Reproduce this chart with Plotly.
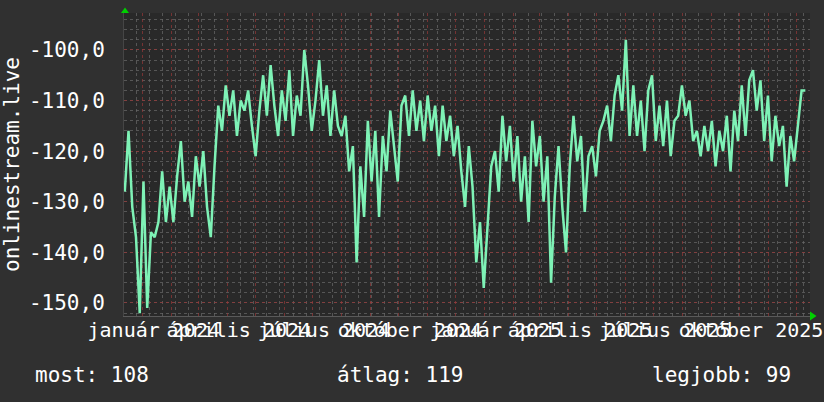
import pandas as pd
import plotly.graph_objects as go

# -----------------------------
# Data (one value every 4 days)
# -----------------------------

start_date = "2023-12-13"

values = [
    -128, -116, -131, -137, -152, -126, -151, -136, -137, -134,
    -124, -134, -127, -134, -125, -118, -130, -126, -133, -121,
    -127, -120, -131, -137, -123, -111, -116, -107, -113, -108,
    -117, -110, -112, -108, -115, -121, -112, -105, -113, -103,
    -111, -117, -108, -114, -104, -117, -109, -113, -100, -107,
    -116, -110, -102, -113, -107, -117, -108, -115, -117, -113,
    -124, -119, -142, -123, -133, -114, -126, -116, -133, -117,
    -124, -112, -119, -126, -111, -109, -117, -108, -116, -110,
    -118, -109, -116, -111, -121, -111, -118, -113, -121, -115,
    -124, -131, -119, -127, -142, -134, -147, -135, -123, -120,
    -128, -113, -122, -115, -126, -117, -130, -121, -134, -114,
    -123, -117, -130, -121, -146, -129, -119, -131, -140, -123,
    -113, -122, -117, -132, -121, -119, -125, -116, -114, -111,
    -118, -109, -105, -112, -98, -117, -107, -117, -110, -120,
    -108, -105, -118, -111, -119, -110, -121, -114, -113, -107,
    -113, -110, -118, -116, -121, -115, -120, -114, -123, -116,
    -120, -113, -124, -112, -118, -107, -117, -106, -104, -112,
    -106, -118, -109, -122, -113, -119, -115, -127, -117, -122,
    -115, -108, -108,
]

label_dates = ["2024-01-13", "2024-04-13", "2024-07-13", "2024-10-13",
               "2025-01-13", "2025-04-13", "2025-07-13", "2025-10-13"]
label_text = ["január 2024", "április 2024", "július 2024", "október 2024",
              "január 2025", "április 2025", "július 2025", "október 2025"]

y_ticks = [-150, -140, -130, -120, -110, -100]
y_text = ["-150,0", "-140,0", "-130,0", "-120,0", "-110,0", "-100,0"]

legend_text = ["most: 108", "átlag: 119", "legjobb: 99"]

dates = pd.date_range(start_date, periods=len(values), freq="4D")

# -----------------------------
# Style
# -----------------------------

FONT = "DejaVu Sans Mono"
PAPER = "#303030"
PLOT = "#292929"
RED_GRID = "rgba(150,55,55,0.7)"
GREY_GRID = "rgba(105,105,105,0.7)"
ARROW = "#00d000"
x_range = ["2023-12-12 04:00", "2025-12-15"]

fig = go.Figure()

fig.add_trace(go.Scatter(
    x=dates,
    y=values,
    mode="lines",
    line=dict(color="#7ef2b6", width=2.5),
    hoverinfo="skip",
    showlegend=False
))

# tiny invisible trace so the label axis gets drawn
fig.add_trace(go.Scatter(
    x=[dates[0]],
    y=[values[0]],
    xaxis="x2",
    mode="lines",
    line=dict(width=0),
    hoverinfo="skip",
    showlegend=False
))

fig.update_layout(
    width=824,
    height=402,
    margin=dict(l=124, r=14, t=13, b=86),
    paper_bgcolor=PAPER,
    plot_bgcolor=PLOT,
    font=dict(family=FONT, color="white"),

    xaxis=dict(
        type="date",
        range=x_range,
        automargin=False,
        tick0="2024-01-01",
        dtick="M1",
        showticklabels=False,
        ticks="",
        showgrid=True,
        gridcolor=RED_GRID,
        griddash="dot",
        gridwidth=1,
        showline=True,
        linecolor="#5a5a5a",
        zeroline=False,
        minor=dict(
            tick0="2023-12-25",
            dtick=14 * 86400000,
            showgrid=True,
            gridcolor=GREY_GRID,
            griddash="dot",
            ticks=""
        )
    ),

    xaxis2=dict(
        type="date",
        overlaying="x",
        anchor="y",
        side="bottom",
        range=x_range,
        automargin=False,
        tickmode="array",
        tickvals=label_dates,
        ticktext=label_text,
        tickangle=0,
        tickfont=dict(family=FONT, size=20, color="white"),
        showgrid=False,
        ticks="",
        zeroline=False
    ),

    yaxis=dict(
        range=[-152.57, -92.7],
        automargin=False,
        tickmode="array",
        tickvals=y_ticks,
        ticktext=y_text,
        tickfont=dict(family=FONT, size=21, color="white"),
        ticks="",
        ticklabelstandoff=14,
        showgrid=True,
        gridcolor=RED_GRID,
        griddash="dot",
        showline=True,
        linecolor="#454545",
        zeroline=False,
        minor=dict(
            dtick=2,
            showgrid=True,
            gridcolor=GREY_GRID,
            griddash="dot",
            ticks=""
        ),
        title=dict(
            text="onlinestream.live",
            font=dict(family=FONT, size=21, color="white"),
            standoff=6
        )
    )
)

# -----------------------------
# Axis arrows
# -----------------------------

fig.add_shape(
    type="path",
    xref="paper", yref="paper",
    path="M -0.0044 1.0 L 0.0073 1.0 L 0.0015 1.0185 Z",
    fillcolor=ARROW, line=dict(width=0), layer="above"
)

fig.add_shape(
    type="path",
    xref="paper", yref="paper",
    path="M 1.0 0.0149 L 1.0 -0.0149 L 1.0095 0 Z",
    fillcolor=ARROW, line=dict(width=0), layer="above"
)

# -----------------------------
# Stats line under the chart
# -----------------------------

legend_x = [-0.1327, 0.3076, 0.7668]

for txt, lx in zip(legend_text, legend_x):
    fig.add_annotation(
        text=txt,
        xref="paper", yref="paper",
        x=lx, y=-0.195,
        xanchor="left", yanchor="middle",
        showarrow=False,
        font=dict(family=FONT, size=21, color="white")
    )

# page body has a default 8px margin, drop it so the figure sits at 0,0
fig.write_html(
    "out.html",
    config={"displayModeBar": False},
    post_script="document.body.style.margin='0';"
)
